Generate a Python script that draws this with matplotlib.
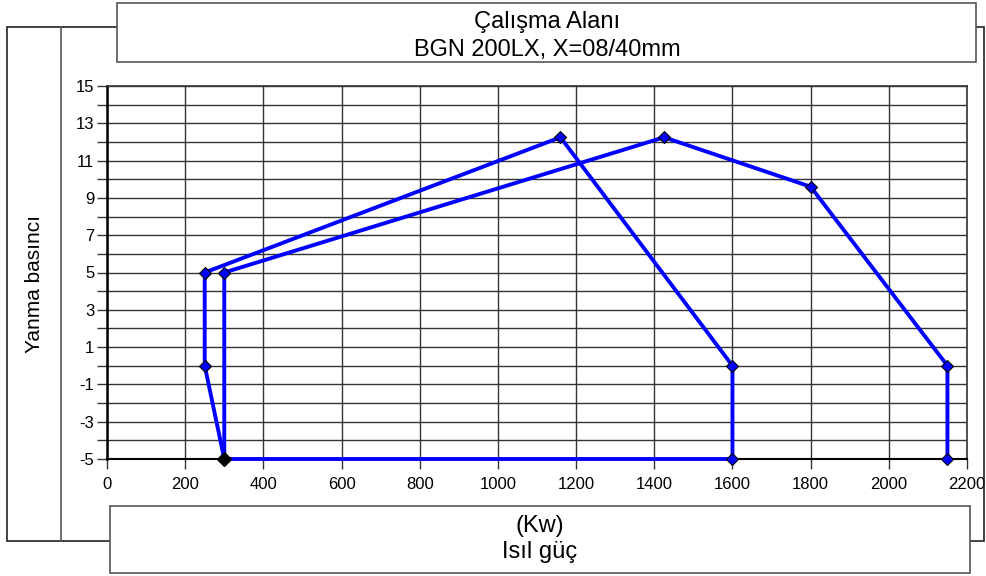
import matplotlib
matplotlib.use("Agg")
import matplotlib.pyplot as plt
from matplotlib.patches import Rectangle
from matplotlib.lines import Line2D

plt.rcParams['font.family'] = ['Liberation Sans', 'DejaVu Sans']
plt.rcParams['axes.unicode_minus'] = False

# veri
seri1_x = [300, 250, 250, 1160, 1600, 1600, 300]
seri1_y = [-5, 0, 5, 12.25, 0, -5, -5]
seri2_x = [300, 300, 1425, 1800, 2150, 2150]
seri2_y = [-5, 5, 12.25, 9.6, 0, -5]

x_ticks = list(range(0, 2201, 200))
y_ticks = list(range(-5, 16, 2))

W, H = 987, 576
fig = plt.figure(figsize=(W / 100, H / 100), dpi=100)

def fx(px):
    return px / W

def fy(py):
    return 1 - py / H

# dis cerceve
fig.patches.append(Rectangle((fx(7), fy(541)), fx(984) - fx(7), fy(27) - fy(541),
                             transform=fig.transFigure, fill=False, ec='#222222', lw=1.2))
fig.lines.append(Line2D([fx(61), fx(61)], [fy(27), fy(541)], transform=fig.transFigure,
                        color='#555555', lw=1.2))

ax = fig.add_axes([fx(107), fy(459), fx(967) - fx(107), fy(86) - fy(459)])
ax.set_xlim(0, 2200)
ax.set_ylim(-5, 15)
ax.set_xticks(x_ticks)
ax.set_yticks(y_ticks)
ax.set_yticks(range(-4, 15, 2), minor=True)
ax.tick_params(axis='both', labelsize=12, color='#333333', length=7, width=1)
ax.tick_params(axis='x', pad=6)
ax.tick_params(axis='y', pad=2)
ax.tick_params(axis='y', which='minor', length=7, width=1, color='#333333')
ax.grid(True, which='both', color='#333333', lw=1)
ax.set_axisbelow(True)
for s in ax.spines.values():
    s.set_color('#333333')
    s.set_linewidth(1.2)
ax.spines['left'].set_color('black')
ax.spines['left'].set_linewidth(1.8)
ax.spines['bottom'].set_color('black')
ax.spines['bottom'].set_linewidth(1.5)

ax.plot(seri1_x, seri1_y, color='#0000ff', lw=2.8, marker='D', ms=6.5,
        mfc='#0000ff', mec='black', mew=0.8, zorder=3, clip_on=False)
ax.plot(seri2_x, seri2_y, color='#0000ff', lw=2.8, marker='D', ms=6.5,
        mfc='#0000ff', mec='black', mew=0.8, zorder=3, clip_on=False)
ax.plot([300], [-5], marker='D', ms=7, color='black', zorder=4, clip_on=False)

# baslik kutusu
fig.patches.append(Rectangle((fx(117), fy(62)), fx(976) - fx(117), fy(3) - fy(62),
                             transform=fig.transFigure, fc='white', ec='#555555', lw=1.2, zorder=5))
fig.text(fx(547), fy(28), 'Çalışma Alanı', ha='center', va='baseline', fontsize=17, zorder=6)
fig.text(fx(547), fy(56), 'BGN 200LX, X=08/40mm', ha='center', va='baseline', fontsize=17, zorder=6)

# eksen kutusu
fig.patches.append(Rectangle((fx(110), fy(573)), fx(970) - fx(110), fy(506) - fy(573),
                             transform=fig.transFigure, fc='white', ec='#555555', lw=1.2, zorder=5))
fig.text(fx(540), fy(532), '(Kw)', ha='center', va='baseline', fontsize=17, zorder=6)
fig.text(fx(540), fy(558), 'Isıl güç', ha='center', va='baseline', fontsize=17, zorder=6)

fig.text(fx(35), fy(284), 'Yanma basıncı', ha='center', va='center', rotation=90, fontsize=15)

fig.savefig('out.png', dpi=100)
